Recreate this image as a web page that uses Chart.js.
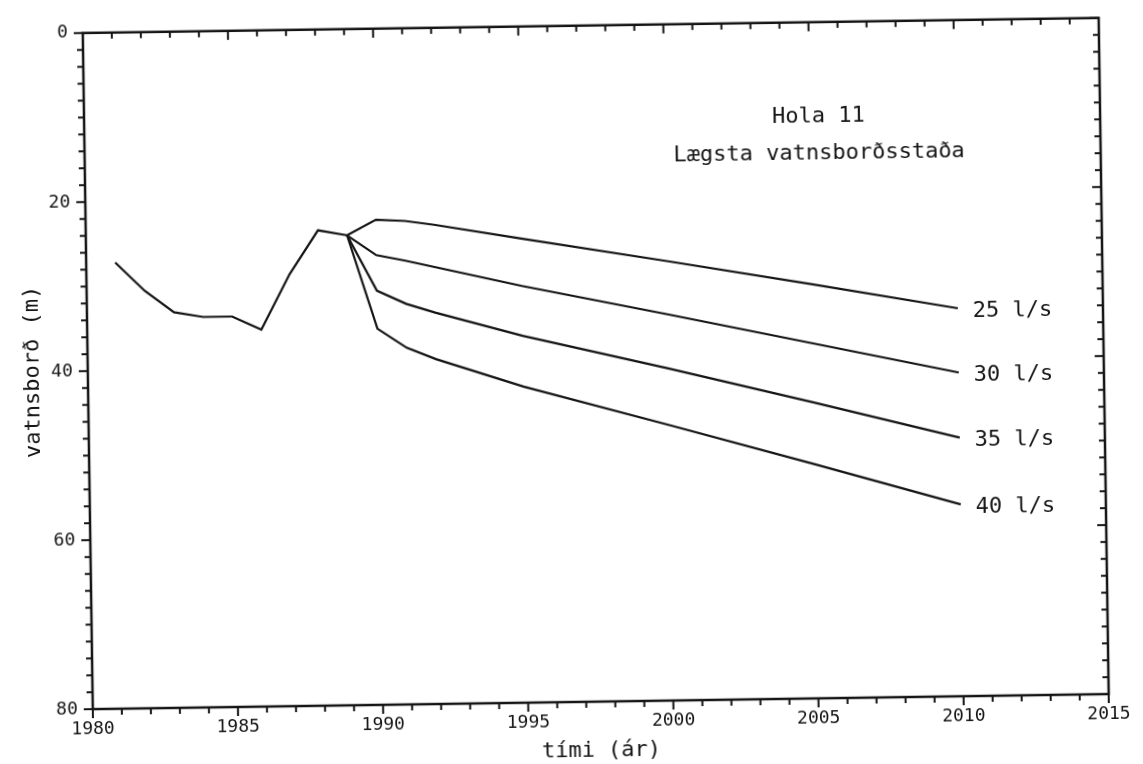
<!DOCTYPE html>
<html>
<head>
<meta charset="utf-8">
<script src="https://cdn.jsdelivr.net/npm/chart.js@4.4.1/dist/chart.umd.min.js"></script>
<style>
html,body{margin:0;padding:0;background:#fff;overflow:hidden}
#wrap{width:1143px;height:764px;transform:rotate(-0.85deg);transform-origin:571.5px 382px}
canvas{display:block}
</style>
</head>
<body>
<div id="wrap"><canvas id="c" width="1143" height="764"></canvas></div>
<script>
// ---- data ----
const observedYears = [1981, 1982, 1983, 1984, 1985, 1986, 1987, 1988, 1989];
const observedLevel = [27.2, 30.6, 33.2, 33.8, 33.8, 35.4, 28.9, 23.75, 24.4];

const forecastYears = [1989, 1990, 1991, 1992, 1995, 2000, 2005, 2010];
const level25 = [24.4, 22.6, 22.8, 23.3, 25.1, 28.0, 31.0, 34.1];
const level30 = [24.4, 26.8, 27.5, 28.3, 30.7, 34.3, 38.0, 41.7];
const level35 = [24.4, 31.0, 32.6, 33.7, 36.6, 40.7, 45.0, 49.4];
const level40 = [24.4, 35.5, 37.8, 39.2, 42.6, 47.4, 52.3, 57.3];
const forecastLabels = ['25 l/s', '30 l/s', '35 l/s', '40 l/s'];

const xTickMin = 1980, xTickMax = 2015, xTickStep = 5;
const yTickMin = 0, yTickMax = 80, yTickStep = 20;
const titleLines = ['Hola 11', 'Lægsta vatnsborðsstaða'];
const xTitle = 'tími (ár)';
const yTitle = 'vatnsborð (m)';

// ---- chart ----
const FONT = "'DejaVu Sans Mono', 'Liberation Mono', monospace";
const INK = '#151515';
const pts = (xs, ys) => xs.map((x, i) => ({x: x, y: ys[i]}));
const lineStyle = {borderColor: INK, borderWidth: 2.2, pointRadius: 0, tension: 0, fill: false};

const forecastSeries = [level25, level30, level35, level40];

const decor = {
  id: 'decor',
  afterDraw(chart) {
    const ctx = chart.ctx, ca = chart.chartArea;
    const xs = chart.scales.x, ys = chart.scales.y;
    ctx.save();
    ctx.strokeStyle = INK;
    ctx.lineWidth = 2.5;
    ctx.strokeRect(ca.left, ca.top, ca.right - ca.left, ca.bottom - ca.top);
    ctx.lineWidth = 2;
    const seg = (x1, y1, x2, y2) => { ctx.beginPath(); ctx.moveTo(x1, y1); ctx.lineTo(x2, y2); ctx.stroke(); };
    for (let v = yTickMin; v <= yTickMax; v += 2) {
      const y = ys.getPixelForValue(v);
      const L = (v % yTickStep === 0) ? 9 : 6;
      seg(ca.left - L, y, ca.left, y);
      seg(ca.right - L, y, ca.right, y);
    }
    for (let yr = xTickMin; yr <= xTickMax; yr += 1) {
      const x = xs.getPixelForValue(yr);
      const L = (yr % xTickStep === 0) ? 9 : 6;
      seg(x, ca.top, x, ca.top + L);
      seg(x, ca.bottom, x, ca.bottom + L);
    }
    // series labels
    ctx.fillStyle = INK;
    ctx.font = '22px ' + FONT;
    ctx.textAlign = 'left';
    ctx.textBaseline = 'middle';
    const lastYear = forecastYears[forecastYears.length - 1];
    forecastSeries.forEach((s, i) => {
      ctx.fillText(forecastLabels[i], xs.getPixelForValue(lastYear) + 15, ys.getPixelForValue(s[s.length - 1]) + 3);
    });
    // title block
    ctx.textAlign = 'center';
    const cx = xs.getPixelForValue(2005.3);
    ctx.fillText(titleLines[0], cx, ys.getPixelForValue(11.2));
    ctx.fillText(titleLines[1], cx, ys.getPixelForValue(15.5));
    ctx.restore();
  }
};

new Chart(document.getElementById('c'), {
  type: 'line',
  data: {
    datasets: [
      Object.assign({label: 'mælt', data: pts(observedYears, observedLevel)}, lineStyle),
      Object.assign({label: forecastLabels[0], data: pts(forecastYears, level25)}, lineStyle),
      Object.assign({label: forecastLabels[1], data: pts(forecastYears, level30)}, lineStyle),
      Object.assign({label: forecastLabels[2], data: pts(forecastYears, level35)}, lineStyle),
      Object.assign({label: forecastLabels[3], data: pts(forecastYears, level40)}, lineStyle)
    ]
  },
  options: {
    responsive: false,
    animation: false,
    layout: {padding: {left: 0, right: 39, top: 16, bottom: 0}},
    plugins: {legend: {display: false}, tooltip: {enabled: false}},
    scales: {
      x: {
        type: 'linear', min: xTickMin, max: xTickMax,
        grid: {display: false, drawTicks: false},
        border: {display: false},
        ticks: {stepSize: xTickStep, padding: 10, color: INK, maxRotation: 0,
                font: {family: FONT, size: 18}, callback: v => String(v)},
        title: {display: true, text: xTitle, color: INK, font: {family: FONT, size: 22}, padding: {top: 0, bottom: 0}},
        afterFit: s => { s.height = 62; }
      },
      y: {
        type: 'linear', reverse: true, min: yTickMin, max: yTickMax,
        grid: {display: false, drawTicks: false},
        border: {display: false},
        ticks: {stepSize: yTickStep, padding: 15, color: INK,
                font: {family: FONT, size: 18}, callback: v => String(v)},
        title: {display: true, text: yTitle, color: INK, font: {family: FONT, size: 22}, padding: {top: 20, bottom: 0}},
        afterFit: s => { s.width = 88; }
      }
    }
  },
  plugins: [decor]
});
</script>
</body>
</html>
